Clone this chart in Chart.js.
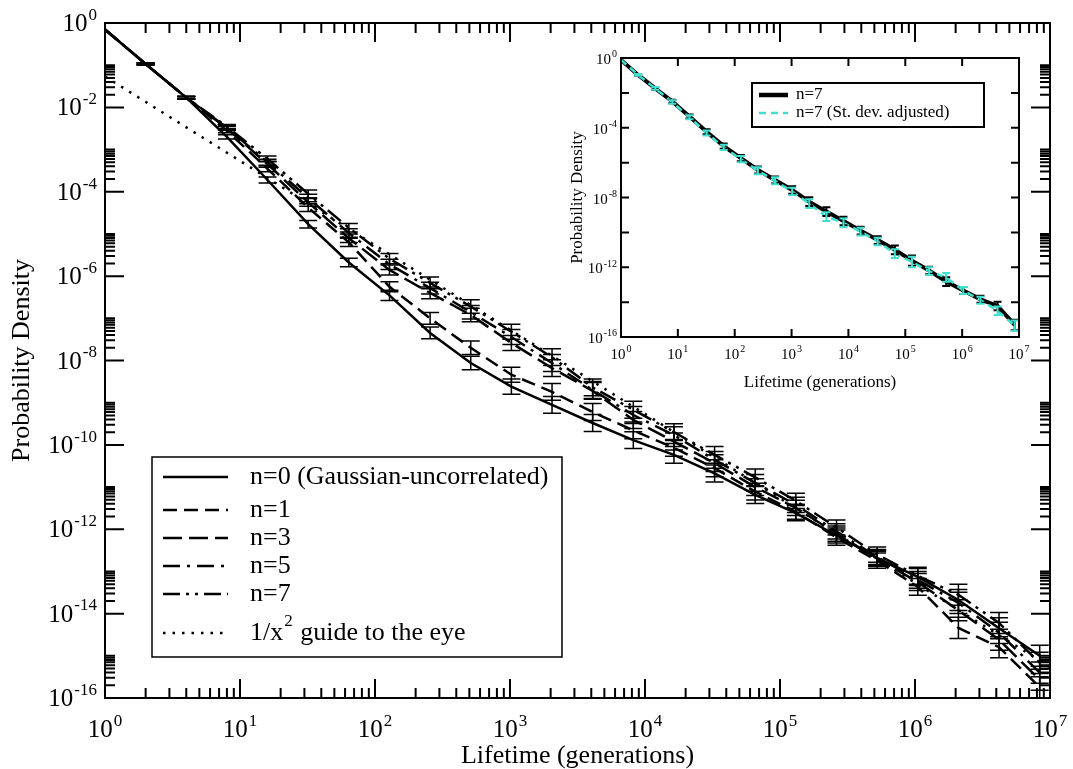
<!DOCTYPE html>
<html>
<head>
<meta charset="utf-8">
<script src="https://cdn.jsdelivr.net/npm/chart.js@4.4.1/dist/chart.umd.min.js"></script>
<style>
  body { margin: 0; background: #fff; }
  #wrap { position: relative; width: 1073px; height: 769px; }
  #mainChart { position: absolute; left: 0; top: 0; }
  #insetChart { position: absolute; left: 560px; top: 44px; }
</style>
</head>
<body>
<div id="wrap">
  <canvas id="mainChart" width="1073" height="769"></canvas>
  <canvas id="insetChart" width="480" height="350"></canvas>
</div>
<script>
// lifetimes (generations), one bin per power of two
const lifetimes = [1, 2, 4, 8, 16, 32, 64, 128, 256, 512, 1024, 2048, 4096, 8192,
  16384, 32768, 65536, 131072, 262144, 524288, 1048576, 2097152, 4194304, 8388608];

const n0 = [0.7, 1.07e-1, 1.7e-2, 2.0e-3, 1.9e-4, 1.7e-5, 2.1e-6, 3.5e-7, 4.5e-8, 8.7e-9,
  2.4e-9, 8.9e-10, 3.3e-10, 1.3e-10, 5.8e-11, 2.1e-11, 6.5e-12, 2.4e-12, 7.1e-13, 2.1e-13,
  7.4e-14, 2.1e-14, 4.5e-15, 1.0e-15];
const n1 = [0.7, 1.07e-1, 1.7e-2, 2.8e-3, 3.5e-4, 4.2e-5, 6.3e-6, 5.6e-7, 1.0e-7, 2.0e-8,
  4.6e-9, 1.8e-9, 6.0e-10, 2.2e-10, 8.5e-11, 2.8e-11, 7.8e-12, 2.6e-12, 6.3e-13, 1.8e-13,
  4.3e-14, 4.6e-15, 1.6e-15, 1.8e-16];
const n3 = [0.7, 1.07e-1, 1.7e-2, 3.2e-3, 4.5e-4, 5.6e-5, 7.9e-6, 1.4e-6, 4.0e-7, 1.2e-7,
  2.6e-8, 6.6e-9, 1.9e-9, 3.9e-10, 1.2e-10, 3.7e-11, 1.0e-11, 3.2e-12, 7.9e-13, 2.0e-13,
  5.6e-14, 1.2e-14, 2.4e-15, 2.7e-16];
const n5 = [0.7, 1.07e-1, 1.7e-2, 3.3e-3, 5.0e-4, 7.1e-5, 1.05e-5, 1.9e-6, 5.2e-7, 1.4e-7,
  3.6e-8, 8.7e-9, 2.0e-9, 5.1e-10, 1.7e-10, 4.4e-11, 1.26e-11, 3.8e-12, 8.9e-13, 2.2e-13,
  6.3e-14, 1.8e-14, 3.5e-15, 4.0e-16];
const n7 = [0.7, 1.07e-1, 1.7e-2, 3.5e-3, 6.0e-4, 8.9e-5, 1.4e-5, 2.6e-6, 6.9e-7, 1.9e-7,
  4.8e-8, 1.2e-8, 2.3e-9, 6.8e-10, 2.0e-10, 5.8e-11, 1.7e-11, 4.7e-12, 1.1e-12, 2.5e-13,
  7.9e-14, 2.8e-14, 6.0e-15, 6.8e-16];
// error bar half-height, in decades
const errDecades = [0, 0.02, 0.03, 0.05, 0.07, 0.09, 0.1, 0.12, 0.14, 0.16, 0.18, 0.2,
  0.2, 0.2, 0.2, 0.2, 0.2, 0.18, 0.18, 0.18, 0.2, 0.25, 0.25, 0.25];

const guideX = [1, 1e7];
const guideY = [5.4e-2, 5.4e-16];

// inset
const insetN7 = [0.78, 0.107, 1.8e-2, 3.2e-3, 4.4e-4, 5.9e-5, 8.9e-6, 1.8e-6, 3.8e-7, 1.0e-7,
  2.7e-8, 5.8e-9, 1.55e-9, 4.5e-10, 1.26e-10, 3.6e-11, 1.0e-11, 2.4e-12, 6.5e-13, 1.5e-13,
  4.6e-14, 1.45e-14, 6.0e-15, 4.9e-16];
const insetAdj = [0.78, 0.107, 1.8e-2, 3.0e-3, 4.0e-4, 5.0e-5, 7.6e-6, 1.6e-6, 3.4e-7, 9.0e-8,
  2.2e-8, 4.5e-9, 8.0e-10, 3.5e-10, 1.1e-10, 3.0e-11, 6.0e-12, 2.0e-12, 6.0e-13, 2.6e-13,
  4.6e-14, 1.3e-14, 3.2e-15, 4.5e-16];
const insetErr = [0, 0.05, 0.08, 0.1, 0.12, 0.15, 0.15, 0.18, 0.2, 0.2, 0.22, 0.25, 0.25,
  0.25, 0.22, 0.22, 0.25, 0.3, 0.22, 0.25, 0.2, 0.2, 0.25, 0.3];

const xTickExps = [0, 1, 2, 3, 4, 5, 6, 7];
const mainYTickExps = [0, -2, -4, -6, -8, -10, -12, -14, -16];
const insetYLabelExps = [0, -4, -8, -12, -16];

const SERIF = '"Liberation Serif", "Times New Roman", serif';
const CYAN = '#40e0d0';

function pts(ys, xs) {
  return ys.map((y, i) => ({ x: (xs || lifetimes)[i], y: y }));
}

function pow10(e) { return Math.pow(10, e); }

function drawPow(ctx, x, y, exp, big, small, align) {
  ctx.font = big + 'px ' + SERIF;
  const wb = ctx.measureText('10').width;
  ctx.font = small + 'px ' + SERIF;
  const we = ctx.measureText(String(exp)).width;
  const total = wb + 1 + we;
  const left = align === 'right' ? x - total : x - total / 2;
  ctx.textAlign = 'left';
  ctx.textBaseline = 'alphabetic';
  ctx.font = big + 'px ' + SERIF;
  ctx.fillText('10', left, y);
  ctx.font = small + 'px ' + SERIF;
  ctx.fillText(String(exp), left + wb + 1, y - big * 0.45);
}

function drawSupText(ctx, text, x, y, big, small) {
  const m = text.match(/^(.*)\^(\S)(.*)$/);
  ctx.textAlign = 'left';
  ctx.textBaseline = 'middle';
  ctx.font = big + 'px ' + SERIF;
  if (!m) { ctx.fillText(text, x, y); return; }
  ctx.fillText(m[1], x, y);
  let cx = x + ctx.measureText(m[1]).width + 1;
  ctx.font = small + 'px ' + SERIF;
  ctx.fillText(m[2], cx, y - big * 0.45);
  cx += ctx.measureText(m[2]).width + 1;
  ctx.font = big + 'px ' + SERIF;
  ctx.fillText(m[3], cx, y);
}

const errorBars = {
  id: 'errorBars',
  afterDatasetsDraw(chart) {
    const { ctx, chartArea, scales } = chart;
    ctx.save();
    ctx.beginPath();
    ctx.rect(chartArea.left, chartArea.top, chartArea.right - chartArea.left, chartArea.bottom - chartArea.top);
    ctx.clip();
    chart.data.datasets.forEach(ds => {
      if (!ds.errDec) return;
      ctx.strokeStyle = ds.errColor;
      ctx.lineWidth = ds.errWidth;
      ctx.setLineDash([]);
      ds.data.forEach((p, i) => {
        const e = ds.errDec[i];
        if (!e) return;
        const f = pow10(e);
        const x = scales.x.getPixelForValue(p.x);
        const y1 = scales.y.getPixelForValue(p.y * f);
        const y2 = scales.y.getPixelForValue(p.y / f);
        ctx.beginPath();
        ctx.moveTo(x, y1); ctx.lineTo(x, y2);
        ctx.moveTo(x - ds.capHalf, y1); ctx.lineTo(x + ds.capHalf, y1);
        ctx.moveTo(x - ds.capHalf, y2); ctx.lineTo(x + ds.capHalf, y2);
        ctx.stroke();
      });
    });
    ctx.restore();
  }
};

// frame, inward ticks, 10^n labels and axis titles
const frameAxes = {
  id: 'frameAxes',
  afterDraw(chart, args, o) {
    const { ctx, chartArea: a, scales } = chart;
    const sx = scales.x, sy = scales.y;
    ctx.save();
    ctx.strokeStyle = '#000';
    ctx.fillStyle = '#000';
    ctx.setLineDash([]);
    ctx.lineWidth = o.tickWidth;
    const xt = [];
    o.xMajor.forEach(e => xt.push([pow10(e), o.majorLen]));
    if (o.xMinor) {
      o.xMajor.slice(0, -1).forEach(e => {
        for (let m = 2; m <= 9; m++) xt.push([m * pow10(e), o.minorLen]);
      });
    }
    xt.forEach(([v, len]) => {
      const x = sx.getPixelForValue(v);
      ctx.beginPath();
      ctx.moveTo(x, a.bottom); ctx.lineTo(x, a.bottom - len);
      ctx.moveTo(x, a.top); ctx.lineTo(x, a.top + len);
      ctx.stroke();
    });
    const yt = [];
    o.yMajor.forEach(e => yt.push([pow10(e), o.majorLen]));
    if (o.yMinor) {
      o.yMajor.slice(1).forEach(e => {
        for (let m = 2; m <= 10; m++) yt.push([m * pow10(e), o.minorLen]);
      });
    }
    yt.forEach(([v, len]) => {
      const y = sy.getPixelForValue(v);
      ctx.beginPath();
      ctx.moveTo(a.left, y); ctx.lineTo(a.left + len, y);
      ctx.moveTo(a.right, y); ctx.lineTo(a.right - len, y);
      ctx.stroke();
    });
    ctx.lineWidth = o.frameWidth;
    ctx.strokeRect(a.left, a.top, a.right - a.left, a.bottom - a.top);

    o.xLabels.forEach(e => {
      drawPow(ctx, sx.getPixelForValue(pow10(e)), a.bottom + o.xLabelDy, e, o.big, o.small, 'center');
    });
    o.yLabels.forEach(e => {
      drawPow(ctx, a.left - o.yLabelDx, sy.getPixelForValue(pow10(e)) + o.yLabelDy, e, o.big, o.small, 'right');
    });

    ctx.font = o.titleSize + 'px ' + SERIF;
    ctx.textAlign = 'center';
    ctx.textBaseline = 'middle';
    ctx.fillText(o.xTitle, (a.left + a.right) / 2, o.xTitleY);
    ctx.save();
    ctx.translate(o.yTitleX, (a.top + a.bottom) / 2);
    ctx.rotate(-Math.PI / 2);
    ctx.fillText(o.yTitle, 0, 0);
    ctx.restore();
    ctx.restore();
  }
};

const boxLegend = {
  id: 'boxLegend',
  afterDraw(chart, args, o) {
    const ctx = chart.ctx;
    ctx.save();
    ctx.fillStyle = '#fff';
    ctx.fillRect(o.left, o.top, o.right - o.left, o.bottom - o.top);
    ctx.strokeStyle = '#000';
    ctx.lineWidth = o.boxWidth;
    ctx.setLineDash([]);
    ctx.strokeRect(o.left, o.top, o.right - o.left, o.bottom - o.top);
    chart.data.datasets.forEach((ds, i) => {
      const y = o.rows[i];
      ctx.strokeStyle = ds.borderColor;
      ctx.lineWidth = ds.legendWidth || ds.borderWidth;
      ctx.setLineDash(ds.borderDash || []);
      ctx.beginPath();
      ctx.moveTo(o.x1, y); ctx.lineTo(o.x2, y);
      ctx.stroke();
      ctx.setLineDash([]);
      ctx.fillStyle = '#000';
      drawSupText(ctx, ds.label, o.textX, y, o.font, o.supFont);
    });
    ctx.restore();
  }
};

function logScales(yw, xh) {
  return {
    x: {
      type: 'logarithmic', min: 1, max: 1e7,
      ticks: { display: false }, grid: { display: false }, border: { display: false },
      afterFit: s => { s.height = xh; }
    },
    y: {
      type: 'logarithmic', min: 1e-16, max: 1,
      ticks: { display: false }, grid: { display: false }, border: { display: false },
      afterFit: s => { s.width = yw; }
    }
  };
}

const mainChart = new Chart(document.getElementById('mainChart'), {
  type: 'line',
  data: {
    datasets: [
      { label: 'n=0 (Gaussian-uncorrelated)', data: pts(n0), borderColor: '#000', borderWidth: 2.5,
        errDec: errDecades, errColor: '#000', errWidth: 1.5, capHalf: 9 },
      { label: 'n=1', data: pts(n1), borderColor: '#000', borderWidth: 2.5, borderDash: [14, 7],
        errDec: errDecades, errColor: '#000', errWidth: 1.5, capHalf: 9 },
      { label: 'n=3', data: pts(n3), borderColor: '#000', borderWidth: 2.5, borderDash: [19, 7],
        errDec: errDecades, errColor: '#000', errWidth: 1.5, capHalf: 9 },
      { label: 'n=5', data: pts(n5), borderColor: '#000', borderWidth: 2.5, borderDash: [17, 7, 3, 7],
        errDec: errDecades, errColor: '#000', errWidth: 1.5, capHalf: 9 },
      { label: 'n=7', data: pts(n7), borderColor: '#000', borderWidth: 2.5, borderDash: [17, 6, 3, 6, 3, 6],
        errDec: errDecades, errColor: '#000', errWidth: 1.5, capHalf: 9 },
      { label: '1/x^2 guide to the eye', data: pts(guideY, guideX), borderColor: '#000', borderWidth: 2.5,
        borderDash: [2.5, 7] }
    ]
  },
  options: {
    responsive: false,
    animation: false,
    layout: { padding: { top: 23, right: 23, left: 0, bottom: 0 } },
    elements: { point: { radius: 0 }, line: { tension: 0 } },
    scales: logScales(105, 71),
    plugins: {
      legend: { display: false },
      tooltip: { enabled: false },
      frameAxes: {
        tickWidth: 2, frameWidth: 2, majorLen: 19, minorLen: 10,
        xMajor: xTickExps, xMinor: true, yMajor: mainYTickExps, yMinor: true,
        xLabels: xTickExps, yLabels: mainYTickExps,
        big: 25, small: 17, xLabelDy: 39, yLabelDx: 8, yLabelDy: 8,
        titleSize: 26, xTitle: 'Lifetime (generations)', xTitleY: 756,
        yTitle: 'Probability Density', yTitleX: 22
      },
      boxLegend: {
        left: 152, top: 457, right: 562, bottom: 657, boxWidth: 1.5,
        rows: [477, 510, 538, 566, 594, 633], x1: 163, x2: 228, textX: 250,
        font: 26, supFont: 17
      }
    }
  },
  plugins: [errorBars, frameAxes, boxLegend]
});

const insetChart = new Chart(document.getElementById('insetChart'), {
  type: 'line',
  data: {
    datasets: [
      { label: 'n=7', data: pts(insetN7), borderColor: '#000', borderWidth: 4, legendWidth: 4.5, order: 1,
        errDec: insetErr, errColor: '#000', errWidth: 2, capHalf: 4 },
      { label: 'n=7 (St. dev. adjusted)', data: pts(insetAdj), borderColor: CYAN, borderWidth: 2.5,
        borderDash: [7, 5], order: 0,
        errDec: insetErr, errColor: CYAN, errWidth: 2, capHalf: 4 }
    ]
  },
  options: {
    responsive: false,
    animation: false,
    layout: { padding: { top: 14, right: 21, left: 0, bottom: 0 } },
    elements: { point: { radius: 0 }, line: { tension: 0 } },
    scales: logScales(61, 57),
    plugins: {
      legend: { display: false },
      tooltip: { enabled: false },
      frameAxes: {
        tickWidth: 2, frameWidth: 2, majorLen: 8, minorLen: 8,
        xMajor: xTickExps, xMinor: false, yMajor: mainYTickExps, yMinor: false,
        xLabels: xTickExps, yLabels: insetYLabelExps,
        big: 15, small: 10, xLabelDy: 22, yLabelDx: 4, yLabelDy: 6,
        titleSize: 17, xTitle: 'Lifetime (generations)', xTitleY: 339,
        yTitle: 'Probability Density', yTitleX: 18
      },
      boxLegend: {
        left: 192, top: 39, right: 424, bottom: 83, boxWidth: 2,
        rows: [51, 69], x1: 199, x2: 228, textX: 236,
        font: 17, supFont: 11
      }
    }
  },
  plugins: [errorBars, frameAxes, boxLegend]
});
</script>
</body>
</html>
